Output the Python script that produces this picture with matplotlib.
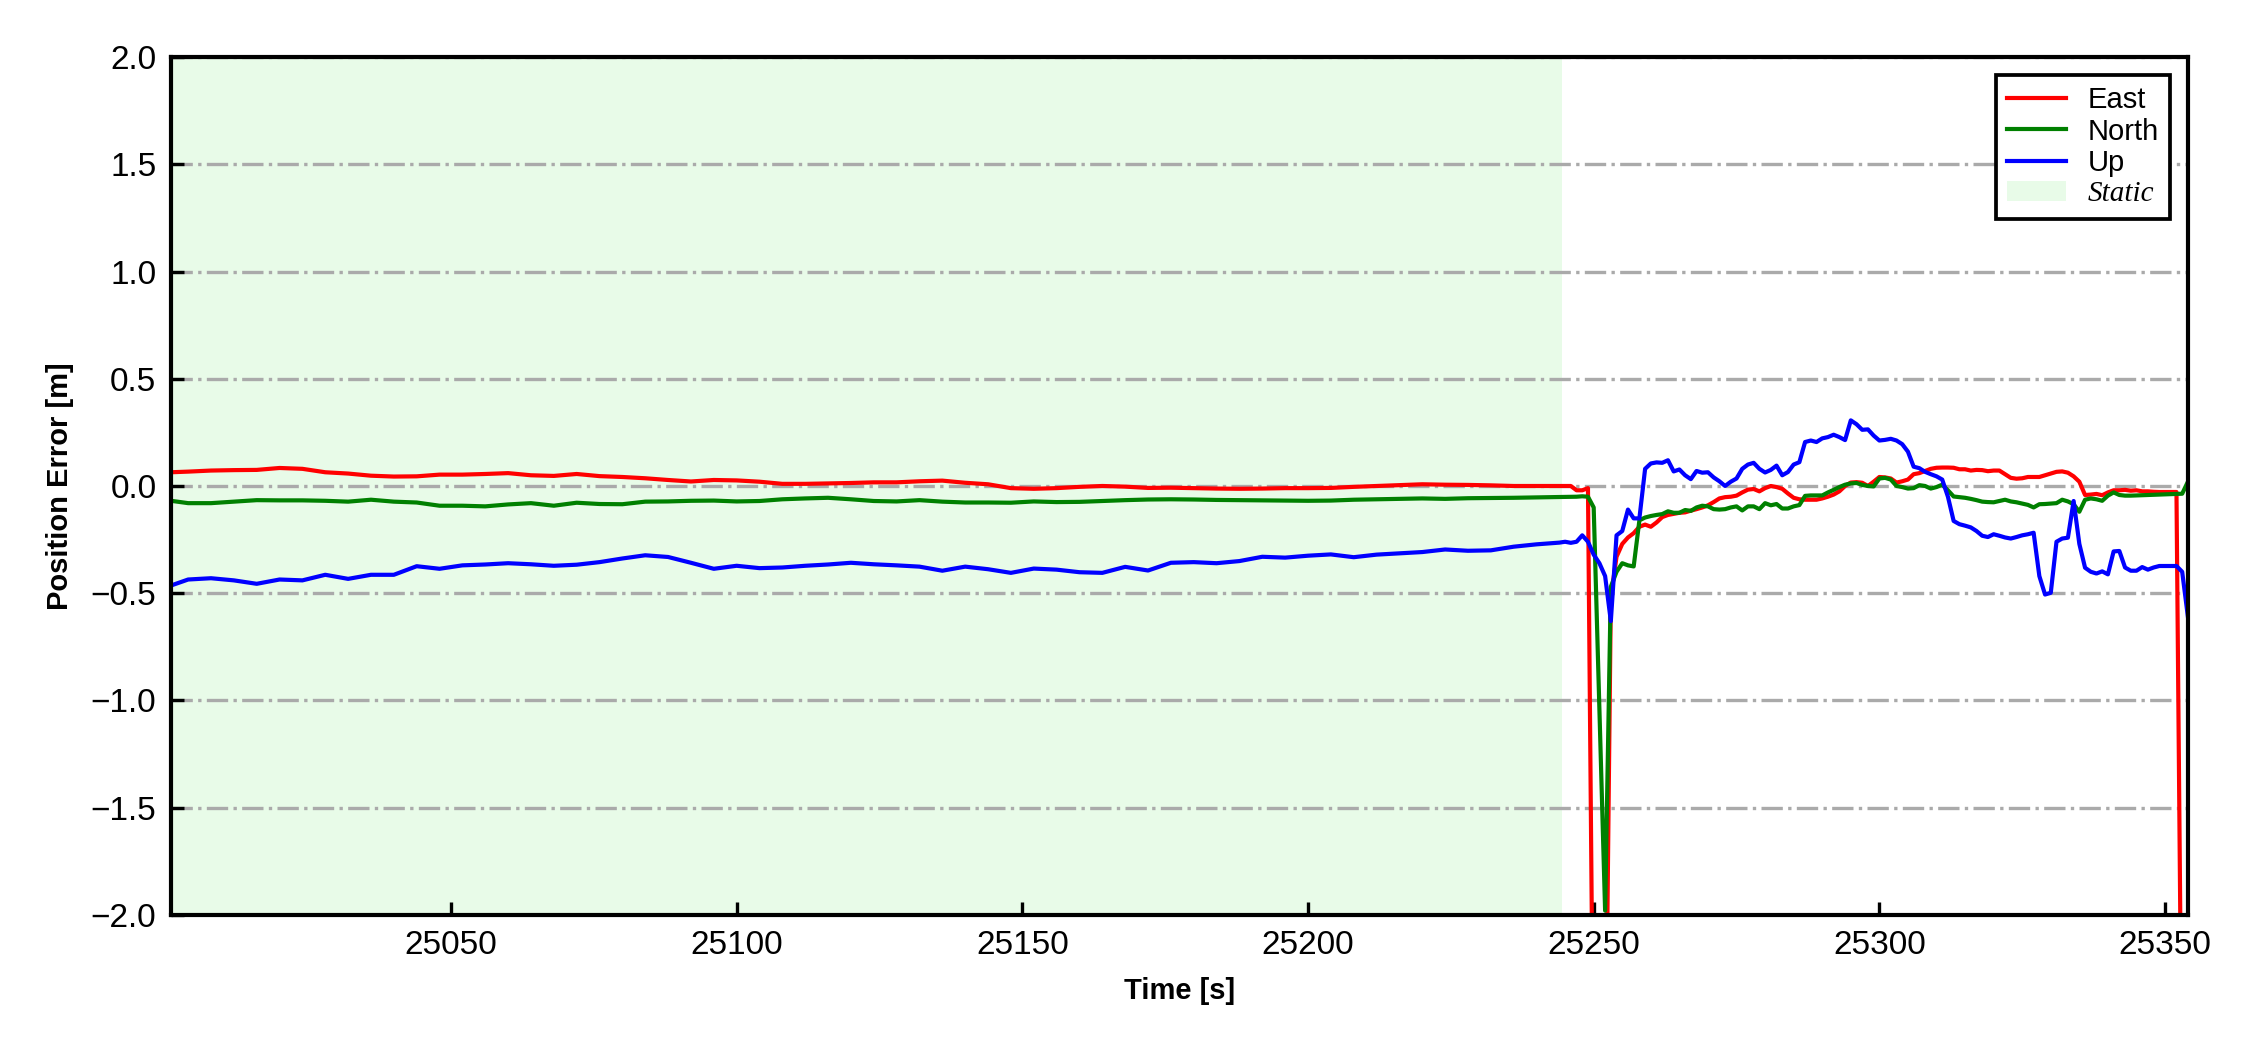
import matplotlib.pyplot as plt
import numpy as np

plt.rcParams["font.family"] = ["Liberation Sans", "DejaVu Sans"]

# Sampling grid: coarse during the static phase, 1 s afterwards
TIME_S = [25001] + list(range(25004, 25245, 4)) + list(range(25245, 25355))
STATIC_SPAN = (25001, 25244.5)

EAST_STATIC = [
    0.064, 0.067, 0.072, 0.074, 0.075, 0.084, 0.080, 0.064, 0.058, 0.048,
    0.044, 0.045, 0.053, 0.053, 0.056, 0.060, 0.050, 0.047, 0.056, 0.046,
    0.042, 0.036, 0.028, 0.021, 0.028, 0.026, 0.020, 0.010, 0.010, 0.012,
    0.014, 0.017, 0.017, 0.022, 0.025, 0.015, 0.008, -0.010, -0.013, -0.010,
    -0.004, 0.000, -0.003, -0.009, -0.008, -0.010, -0.012, -0.013, -0.012, -0.010,
    -0.010, -0.009, -0.004, 0.000, 0.004, 0.008, 0.006, 0.005, 0.003, 0.000,
    0.000, 0.000,
]
NORTH_STATIC = [
    -0.069, -0.080, -0.080, -0.073, -0.066, -0.067, -0.067, -0.069, -0.073, -0.064,
    -0.073, -0.077, -0.092, -0.092, -0.095, -0.086, -0.080, -0.092, -0.078, -0.084,
    -0.085, -0.073, -0.072, -0.069, -0.068, -0.072, -0.070, -0.062, -0.058, -0.055,
    -0.062, -0.070, -0.072, -0.066, -0.073, -0.077, -0.077, -0.078, -0.072, -0.075,
    -0.074, -0.070, -0.066, -0.063, -0.062, -0.063, -0.065, -0.066, -0.067, -0.068,
    -0.069, -0.068, -0.064, -0.062, -0.060, -0.058, -0.060, -0.057, -0.056, -0.055,
    -0.053, -0.051,
]
UP_STATIC = [
    -0.464, -0.436, -0.430, -0.440, -0.456, -0.436, -0.440, -0.414, -0.433, -0.414,
    -0.414, -0.374, -0.386, -0.370, -0.366, -0.360, -0.365, -0.372, -0.367, -0.355,
    -0.338, -0.323, -0.331, -0.358, -0.386, -0.372, -0.383, -0.380, -0.372, -0.366,
    -0.358, -0.365, -0.370, -0.376, -0.395, -0.376, -0.388, -0.405, -0.385, -0.390,
    -0.402, -0.405, -0.377, -0.394, -0.358, -0.355, -0.360, -0.350, -0.330, -0.334,
    -0.325, -0.319, -0.332, -0.320, -0.314, -0.308, -0.296, -0.302, -0.300, -0.283,
    -0.272, -0.264,
]

EAST_KINEMATIC = [
    0.0, 0.0, -0.02, -0.02, -0.01, -3.0, -3.5, -3.0, -0.52, -0.33,
    -0.27, -0.24, -0.22, -0.19, -0.18, -0.19, -0.17, -0.145, -0.135, -0.13,
    -0.125, -0.123, -0.115, -0.108, -0.10, -0.09, -0.075, -0.058, -0.052, -0.05,
    -0.045, -0.03, -0.017, -0.014, -0.025, -0.01, 0.0, -0.005, -0.013, -0.035,
    -0.055, -0.062, -0.064, -0.064, -0.064, -0.058, -0.05, -0.04, -0.025, 0.0,
    0.016, 0.018, 0.015, 0.0, 0.02, 0.042, 0.04, 0.035, 0.016, 0.022,
    0.03, 0.055, 0.06, 0.07, 0.08, 0.085, 0.086, 0.086, 0.085, 0.078,
    0.078, 0.072, 0.075, 0.074, 0.069, 0.072, 0.072, 0.055, 0.038, 0.034,
    0.036, 0.042, 0.042, 0.042, 0.05, 0.058, 0.066, 0.068, 0.062, 0.045,
    0.02, -0.042, -0.04, -0.037, -0.043, -0.03, -0.02, -0.02, -0.018, -0.022,
    -0.02, -0.025, -0.025, -0.027, -0.028, -0.028, -0.028, -0.028, -3.0, -3.5,
]
NORTH_KINEMATIC = [
    -0.05, -0.05, -0.05, -0.048, -0.05, -0.10, -1.04, -1.98, -0.47, -0.40,
    -0.36, -0.37, -0.375, -0.16, -0.147, -0.14, -0.135, -0.131, -0.118, -0.125,
    -0.125, -0.112, -0.116, -0.10, -0.092, -0.095, -0.108, -0.11, -0.108, -0.10,
    -0.095, -0.114, -0.095, -0.095, -0.108, -0.08, -0.09, -0.084, -0.105, -0.105,
    -0.095, -0.089, -0.046, -0.044, -0.044, -0.044, -0.03, -0.018, -0.005, 0.006,
    0.012, 0.014, 0.005, 0.0, -0.002, 0.035, 0.038, 0.03, 0.0, -0.005,
    -0.012, -0.010, 0.004, 0.0, -0.012, -0.005, 0.006, -0.02, -0.049, -0.052,
    -0.055, -0.06, -0.066, -0.073, -0.075, -0.076, -0.07, -0.064, -0.072, -0.076,
    -0.082, -0.088, -0.100, -0.085, -0.084, -0.082, -0.08, -0.064, -0.072, -0.085,
    -0.12, -0.064, -0.058, -0.062, -0.069, -0.045, -0.03, -0.042, -0.045, -0.045,
    -0.044, -0.043, -0.042, -0.041, -0.040, -0.039, -0.038, -0.037, -0.036, 0.02,
]
UP_KINEMATIC = [
    -0.26, -0.265, -0.26, -0.23, -0.26, -0.32, -0.36, -0.42, -0.63, -0.23,
    -0.21, -0.11, -0.151, -0.151, 0.08, 0.105, 0.11, 0.108, 0.12, 0.068,
    0.077, 0.05, 0.032, 0.07, 0.062, 0.064, 0.04, 0.022, 0.0, 0.02,
    0.035, 0.08, 0.10, 0.108, 0.08, 0.063, 0.075, 0.095, 0.05, 0.065,
    0.10, 0.111, 0.205, 0.212, 0.205, 0.222, 0.228, 0.239, 0.228, 0.214,
    0.306, 0.288, 0.262, 0.264, 0.235, 0.212, 0.215, 0.220, 0.212, 0.195,
    0.16, 0.09, 0.083, 0.066, 0.055, 0.045, 0.03, -0.05, -0.163, -0.178,
    -0.185, -0.193, -0.21, -0.232, -0.238, -0.225, -0.232, -0.24, -0.245, -0.238,
    -0.23, -0.225, -0.218, -0.42, -0.506, -0.498, -0.26, -0.245, -0.241, -0.07,
    -0.27, -0.381, -0.40, -0.408, -0.398, -0.412, -0.305, -0.303, -0.38, -0.395,
    -0.395, -0.378, -0.39, -0.38, -0.373, -0.373, -0.373, -0.373, -0.40, -0.61,
]

SERIES = [
    ("East", EAST_STATIC + EAST_KINEMATIC, "red"),
    ("North", NORTH_STATIC + NORTH_KINEMATIC, "green"),
    ("Up", UP_STATIC + UP_KINEMATIC, "blue"),
]
X_TICKS = [25050, 25100, 25150, 25200, 25250, 25300, 25350]
Y_TICKS = [-2.0, -1.5, -1.0, -0.5, 0.0, 0.5, 1.0, 1.5, 2.0]


def main():
    t = np.array(TIME_S, dtype=float)

    fig = plt.figure(figsize=(7.5, 3.5), dpi=300)
    ax = fig.add_axes([0.076, 0.1286, 0.8964, 0.8171])
    ax.set_axisbelow(True)

    ax.axvspan(*STATIC_SPAN, color="lightgreen", alpha=0.2, lw=0, label="Static", zorder=0)

    for label, values, color in SERIES:
        assert len(values) == len(t), label
        ax.plot(t, values, color=color, lw=1.0, label=label, zorder=3)

    ax.set_xlim(t[0], t[-1])
    ax.set_ylim(-2.0, 2.0)
    ax.set_xticks(X_TICKS)
    ax.set_yticks(Y_TICKS)
    ax.yaxis.set_major_formatter(plt.FuncFormatter(lambda v, _: f"{v:.1f}".replace("-", "\u2212")))

    ax.grid(True, axis="y", linestyle="-.", color="#aaaaaa", lw=0.8)

    for side in ax.spines.values():
        side.set_linewidth(1.0)
        side.set_zorder(5)
    ax.tick_params(axis="both", direction="in", length=3.2, width=0.8,
                   labelsize=8, top=False, right=False)

    ax.set_xlabel("Time [s]", fontsize=7, fontweight="bold")
    ax.set_ylabel("Position Error [m]", fontsize=7, fontweight="bold")

    handles, labels = ax.get_legend_handles_labels()
    order = [labels.index(n) for n in ("East", "North", "Up", "Static")]
    leg = ax.legend([handles[i] for i in order], [labels[i] for i in order],
                    loc="upper right", fontsize=7, fancybox=False,
                    edgecolor="black", framealpha=1.0,
                    handlelength=2.0, handletextpad=0.75,
                    labelspacing=0.12, borderpad=0.4, borderaxespad=0.6)
    leg.get_frame().set_linewidth(0.9)
    leg.set_zorder(6)
    for txt in leg.get_texts():
        if txt.get_text() == "Static":
            txt.set_fontfamily(["Liberation Serif", "DejaVu Serif"])
            txt.set_fontstyle("italic")

    fig.savefig("out.png", dpi=300, facecolor="white")
    plt.close(fig)


if __name__ == "__main__":
    main()
